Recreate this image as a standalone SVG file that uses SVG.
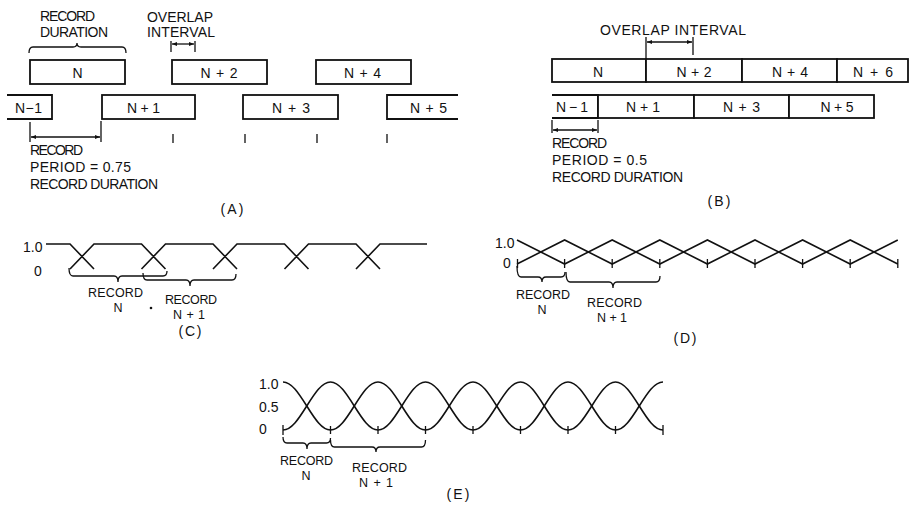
<svg xmlns="http://www.w3.org/2000/svg" width="909" height="510" viewBox="0 0 909 510">
<style>
.t{font-family:"Liberation Sans",Arial,sans-serif;font-size:14px;fill:#111}
.s{font-family:"Liberation Sans",Arial,sans-serif;font-size:12.5px;fill:#111}
.m{text-anchor:middle}
.box{fill:#fff;stroke:#111;stroke-width:1.8}
.ln{fill:none;stroke:#111;stroke-width:1.6}
.thin{fill:none;stroke:#111;stroke-width:1.3}
</style>
<defs>
<marker id="ah" viewBox="0 0 10 10" refX="10" refY="5" markerWidth="6" markerHeight="5" orient="auto-start-reverse" markerUnits="userSpaceOnUse">
<path d="M0,1 L10,5 L0,9 z" fill="#111"/>
</marker>
</defs>
<rect width="909" height="510" fill="#fff"/>

<!-- Panel A labels -->
<text class="t" x="40" y="21" textLength="55">RECORD</text>
<text class="t" x="40" y="37" textLength="68">DURATION</text>
<text class="t" x="147" y="22" textLength="66">OVERLAP</text>
<text class="t" x="147" y="37" textLength="68">INTERVAL</text>
<text class="t" x="30" y="155" textLength="53">RECORD</text>
<text class="t" x="30" y="172" textLength="101">PERIOD = 0.75</text>
<text class="t" x="30" y="189" textLength="128">RECORD DURATION</text>
<text class="t m" x="232" y="214" textLength="23">(A)</text>

<!-- Panel A nodes -->
<g id="a-n"><rect class="box" x="30" y="60" width="95" height="24"/><text class="t m" x="77.5" y="78">N</text></g>
<g id="a-n2"><rect class="box" x="172" y="60" width="95" height="24"/><text class="t m" x="219" y="78" textLength="37">N+2</text></g>
<g id="a-n4"><rect class="box" x="316" y="60" width="95" height="24"/><text class="t m" x="362.5" y="78" textLength="37">N+4</text></g>
<g id="a-nm1"><path class="box" d="M7,95 H52 V119 H7"/><text class="t m" x="28.5" y="113" textLength="27">N−1</text></g>
<g id="a-n1"><rect class="box" x="102" y="95" width="93" height="24"/><text class="t m" x="143.5" y="113" textLength="33">N+1</text></g>
<g id="a-n3"><rect class="box" x="243" y="95" width="95" height="24"/><text class="t m" x="291" y="113" textLength="38">N+3</text></g>
<g id="a-n5"><path class="box" d="M458,95 H387 V119 H458"/><text class="t m" x="428.5" y="113" textLength="37">N+5</text></g>

<!-- Panel B labels -->
<text class="t" x="600" y="35" textLength="146">OVERLAP INTERVAL</text>
<text class="t" x="552" y="148" textLength="55">RECORD</text>
<text class="t" x="552" y="165" textLength="95">PERIOD = 0.5</text>
<text class="t" x="552" y="182" textLength="131">RECORD DURATION</text>
<text class="t m" x="719" y="206" textLength="23">(B)</text>

<!-- Panel B nodes -->
<g id="b-n"><rect class="box" x="552" y="59" width="94" height="23"/><text class="t m" x="598" y="77">N</text></g>
<g id="b-n2"><rect class="box" x="646" y="59" width="96" height="23"/><text class="t m" x="694" y="77" textLength="35">N+2</text></g>
<g id="b-n4"><rect class="box" x="742" y="59" width="95" height="23"/><text class="t m" x="790" y="77" textLength="36">N+4</text></g>
<g id="b-n6"><rect class="box" x="837" y="59" width="71" height="23"/><text class="t m" x="873" y="77" textLength="40">N+6</text></g>
<g id="b-nm1"><path class="box" d="M552,95 H598 V118 H552"/><text class="t m" x="572" y="112" textLength="32">N−1</text></g>
<g id="b-n1"><rect class="box" x="598" y="95" width="96" height="23"/><text class="t m" x="643" y="112" textLength="34">N+1</text></g>
<g id="b-n3"><rect class="box" x="694" y="95" width="95" height="23"/><text class="t m" x="741.5" y="112" textLength="37">N+3</text></g>
<g id="b-n5"><rect class="box" x="789" y="95" width="85" height="23"/><text class="t m" x="837" y="112" textLength="33">N+5</text></g>

<!-- Connectors / dimension marks -->
<g id="connectors">
<path class="thin" d="M29,53 Q29,47 33,47 H73 Q77,47 77,43 Q77,47 81,47 H122 Q126,47 126,53"/>
<path class="thin" d="M171,41 V52 M195,41 V52"/>
<line class="thin" x1="172" y1="44" x2="194" y2="44" marker-start="url(#ah)" marker-end="url(#ah)"/>
<path class="thin" d="M30,122 V142 M101,121 V142"/>
<line class="thin" x1="31" y1="137" x2="100" y2="137" marker-start="url(#ah)" marker-end="url(#ah)"/>
<path class="thin" d="M173,134 V143 M245,134 V143 M317,134 V143 M387,134 V143"/>
<path class="thin" d="M646,37 V59 M693,37 V55"/>
<line class="thin" x1="647" y1="42" x2="692" y2="42" marker-start="url(#ah)" marker-end="url(#ah)"/>
<path class="thin" d="M552,120 V133 M598,120 V133"/>
<line class="thin" x1="553" y1="130" x2="597" y2="130" marker-start="url(#ah)" marker-end="url(#ah)"/>
<!-- braces C -->
<path class="thin" d="M69,268 Q69,276 73,276 H114 Q118,276 118,282 Q118,276 122,276 H163 Q167,276 167,271"/>
<path class="thin" d="M143,273 Q143,280 147,280 H186 Q190,280 190,286 Q190,280 194,280 H232 Q236,280 236,274"/>
<!-- braces D -->
<path class="thin" d="M517,266 Q517,277 521,277 H538 Q542,277 542,282 Q542,277 546,277 H561 Q565,277 565,272"/>
<path class="thin" d="M566,272 Q566,282 570,282 H609 Q613,282 613,288 Q613,282 617,282 H656 Q660,282 660,276"/>
<!-- braces E -->
<path class="thin" d="M283,437 Q283,443 287,443 H303 Q307,443 307,449 Q307,443 311,443 H326.5 Q330.5,443 330.5,438"/>
<path class="thin" d="M330.5,440 Q330.5,447 334.5,447 H372 Q376,447 376,452 Q376,447 380,447 H421.5 Q425.5,447 425.5,440"/>
</g>

<!-- Panel C -->
<text class="t" x="23" y="252">1.0</text>
<text class="t" x="34" y="276">0</text>
<path class="ln" d="M46,244 H70 L94,269 M70,269 L94,244 H141.5 L165.5,269 M141.5,269 L165.5,244 H213 L237,269 M213,269 L237,244 H284.5 L308.5,269 M284.5,269 L308.5,244 H356 L380,269 M356,269 L380,244 H427"/>
<text class="s" x="88" y="297" textLength="55">RECORD</text>
<text class="s m" x="118" y="312">N</text>
<text class="s" x="165" y="304" textLength="52">RECORD</text>
<text class="s m" x="189" y="319" textLength="32">N+1</text>
<circle cx="151" cy="308" r="1.3" fill="#111"/>
<text class="t m" x="190" y="336" textLength="23">(C)</text>

<!-- Panel D -->
<text class="t" x="495" y="248">1.0</text>
<text class="t" x="503" y="268">0</text>
<polyline class="ln" points="517,240 564.6,264 612.2,240 659.8,264 707.4,240 755,264 802.6,240 850.2,264 897.8,240"/>
<polyline class="ln" points="517,264 564.6,240 612.2,264 659.8,240 707.4,264 755,240 802.6,264 850.2,240 897.8,264"/>
<path class="thin" d="M517.5,259 V268 M564.6,259 V268 M612.2,259 V268 M659.8,259 V268 M707.4,259 V268 M755,259 V268 M802.6,259 V268 M850.2,259 V268 M897.8,259 V268"/>
<text class="s" x="516" y="299" textLength="54">RECORD</text>
<text class="s m" x="542" y="314">N</text>
<text class="s" x="587" y="307" textLength="55">RECORD</text>
<text class="s m" x="612" y="322" textLength="30">N+1</text>
<text class="t m" x="685" y="343" textLength="23">(D)</text>

<!-- Panel E -->
<text class="t" x="259" y="389">1.0</text>
<text class="t" x="259" y="412">0.5</text>
<text class="t" x="259" y="434">0</text>
<path class="ln" d="M283,382 c8.6,0 15.81,11.4 23.75,24 c7.94,12.6 15.15,24 23.75,24 c8.6,0 15.81,-11.4 23.75,-24 c7.94,-12.6 15.15,-24 23.75,-24 c8.6,0 15.81,11.4 23.75,24 c7.94,12.6 15.15,24 23.75,24 c8.6,0 15.81,-11.4 23.75,-24 c7.94,-12.6 15.15,-24 23.75,-24 c8.6,0 15.81,11.4 23.75,24 c7.94,12.6 15.15,24 23.75,24 c8.6,0 15.81,-11.4 23.75,-24 c7.94,-12.6 15.15,-24 23.75,-24 c8.6,0 15.81,11.4 23.75,24 c7.94,12.6 15.15,24 23.75,24 c8.6,0 15.81,-11.4 23.75,-24 c7.94,-12.6 15.15,-24 23.75,-24"/>
<path class="ln" d="M283,430 c8.6,0 15.81,-11.4 23.75,-24 c7.94,-12.6 15.15,-24 23.75,-24 c8.6,0 15.81,11.4 23.75,24 c7.94,12.6 15.15,24 23.75,24 c8.6,0 15.81,-11.4 23.75,-24 c7.94,-12.6 15.15,-24 23.75,-24 c8.6,0 15.81,11.4 23.75,24 c7.94,12.6 15.15,24 23.75,24 c8.6,0 15.81,-11.4 23.75,-24 c7.94,-12.6 15.15,-24 23.75,-24 c8.6,0 15.81,11.4 23.75,24 c7.94,12.6 15.15,24 23.75,24 c8.6,0 15.81,-11.4 23.75,-24 c7.94,-12.6 15.15,-24 23.75,-24 c8.6,0 15.81,11.4 23.75,24 c7.94,12.6 15.15,24 23.75,24"/>
<path class="thin" d="M283,425 V435 M330.5,426 V434 M378,426 V434 M425.5,426 V434 M473,426 V434 M520.5,426 V434 M568,426 V434 M615.5,426 V434 M663,425 V435"/>
<text class="s" x="280" y="465" textLength="53">RECORD</text>
<text class="s m" x="306" y="480">N</text>
<text class="s" x="352" y="472" textLength="55">RECORD</text>
<text class="s m" x="376" y="487" textLength="34">N+1</text>
<text class="t m" x="458" y="499" textLength="23">(E)</text>
</svg>
